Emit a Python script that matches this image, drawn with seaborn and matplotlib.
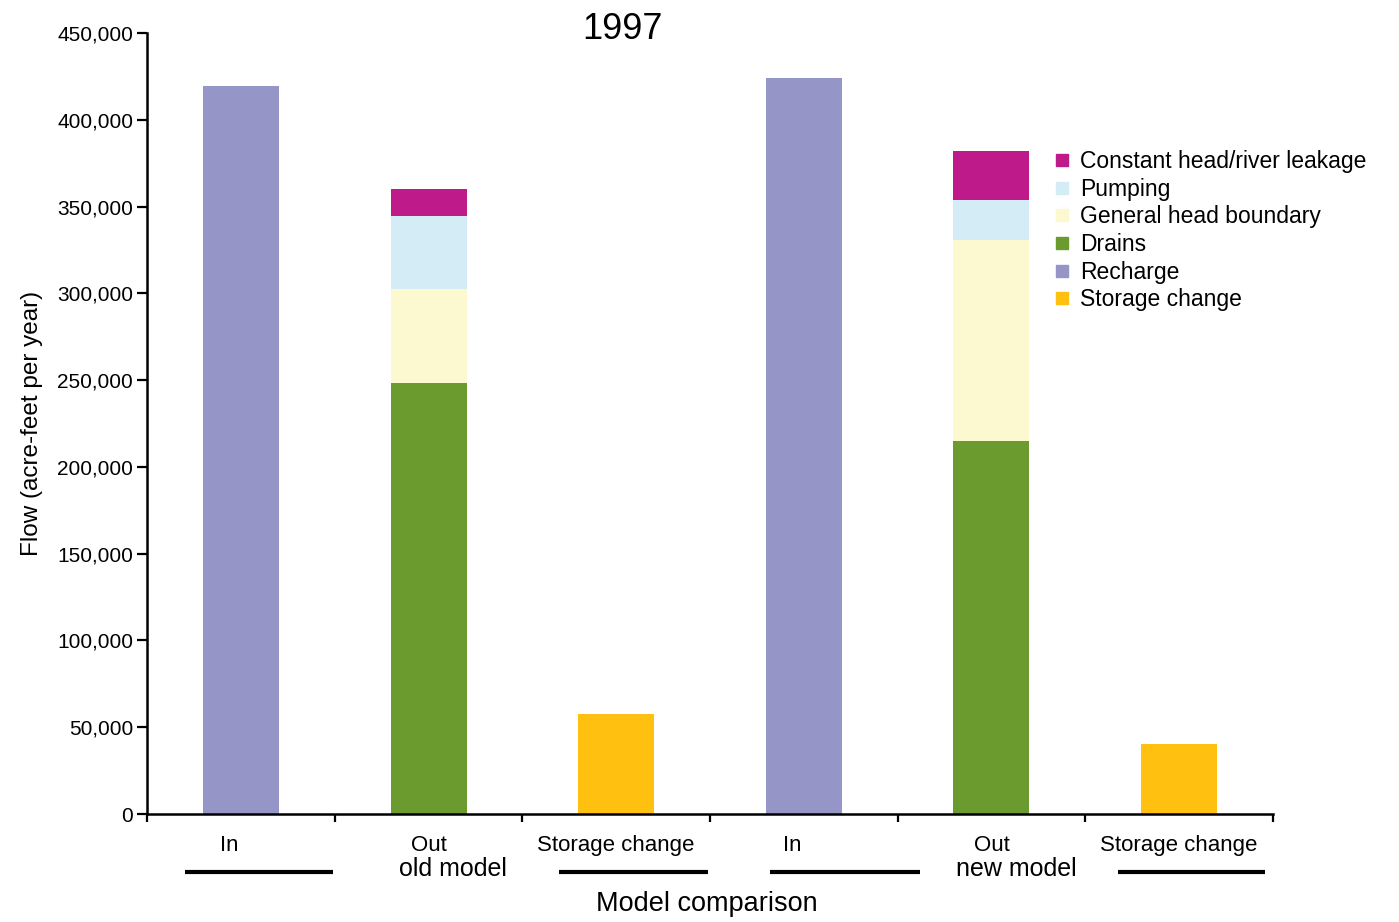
import matplotlib
matplotlib.use("Agg")
import matplotlib.pyplot as plt
import matplotlib.transforms as mtransforms
from matplotlib.lines import Line2D
import numpy as np
import pandas as pd
import seaborn as sns

sns.set_theme(style="white")
plt.rcParams['font.family'] = ['Liberation Sans', 'DejaVu Sans']
plt.rcParams['text.color'] = 'black'
plt.rcParams['axes.labelcolor'] = 'black'
plt.rcParams['xtick.color'] = 'black'
plt.rcParams['ytick.color'] = 'black'

# bar slots, left to right
slots = ["In (old)", "Out (old)", "Storage (old)", "In (new)", "Out (new)", "Storage (new)"]
slot_labels = ["In", "Out", "Storage change", "In", "Out", "Storage change"]

# flow components (acre-feet per year), stacked bottom to top
recharge = [419500, 0, 0, 424000, 0, 0]
storage = [0, 0, 57700, 0, 0, 40400]
drains = [0, 248500, 0, 0, 214800, 0]
ghb = [0, 53800, 0, 0, 116000, 0]
pumping = [0, 42300, 0, 0, 23200, 0]
const_head = [0, 15400, 0, 0, 28100, 0]

components = ["Recharge", "Storage change", "Drains", "General head boundary",
              "Pumping", "Constant head/river leakage"]
colors = {
	"Recharge": "#9595c7",
	"Storage change": "#ffc010",
	"Drains": "#6b9b2f",
	"General head boundary": "#fcf8d0",
	"Pumping": "#d4ecf5",
	"Constant head/river leakage": "#be1a8a",
}
legend_order = ["Constant head/river leakage", "Pumping", "General head boundary",
                "Drains", "Recharge", "Storage change"]

df = pd.DataFrame({
	"slot": slots,
	"Recharge": recharge,
	"Storage change": storage,
	"Drains": drains,
	"General head boundary": ghb,
	"Pumping": pumping,
	"Constant head/river leakage": const_head,
})
cum = df[components].cumsum(axis=1)
cum["slot"] = df["slot"]

fig = plt.figure(figsize=(13.99, 9.22), dpi=100)
ax = fig.add_axes([0.1051, 0.1171, 0.8048, 0.8471])

# draw cumulative totals from the top layer down so each layer covers the one above
for comp in reversed(components):
	sns.barplot(data=cum, x="slot", y=comp, order=slots, color=colors[comp],
	            width=0.405, errorbar=None, linewidth=0, saturation=1, ax=ax)

ax.set_xlim(-0.5, 5.5)
ax.set_ylim(0, 450000)
ax.set_yticks(np.arange(0, 450001, 50000))
ax.set_yticklabels([f"{v:,}" for v in range(0, 450001, 50000)], fontsize=15)
ax.set_xticks(np.arange(-0.5, 5.6, 1.0))
ax.set_xticklabels([])
ax.tick_params(axis="y", direction="out", length=7, width=1.6, color="black", pad=3, left=True)
ax.tick_params(axis="x", direction="out", length=6, width=1.6, color="black", bottom=True)
ax.set_xlabel("")
ax.set_ylabel("Flow (acre-feet per year)", fontsize=17.5, labelpad=10)
for side in ["top", "right"]:
	ax.spines[side].set_visible(False)
for side in ["left", "bottom"]:
	ax.spines[side].set_color("black")
	ax.spines[side].set_linewidth(1.8)

trans = mtransforms.blended_transform_factory(ax.transData, ax.transAxes)
for i, lab in enumerate(slot_labels):
	ax.text(i - 0.06 if lab == "In" else i, -0.04, lab, transform=trans,
	        ha="center", va="center", fontsize=16)
ax.text(1.13, -0.071, "old model", transform=trans, ha="center", va="center", fontsize=18)
ax.text(4.13, -0.071, "new model", transform=trans, ha="center", va="center", fontsize=18)

# group underlines
for x0, x1 in [(-0.30, 0.49), (1.695, 2.489), (2.82, 3.62), (4.673, 5.46)]:
	ax.plot([x0, x1], [-0.074, -0.074], transform=trans, color="black",
	        linewidth=3, clip_on=False, solid_capstyle="butt")

fig.text(0.505, 0.019, "Model comparison", ha="center", va="center", fontsize=19.5)
fig.text(0.445, 0.968, "1997", ha="center", va="center", fontsize=26)

handles = [Line2D([0], [0], marker="s", linestyle="none", markersize=8,
                  markerfacecolor=colors[c], markeredgecolor=colors[c]) for c in legend_order]
fig.legend(handles, legend_order, loc="upper left", bbox_to_anchor=(0.748, 0.847),
           frameon=False, fontsize=16.5, handlelength=0.6, handletextpad=0.45,
           labelspacing=0.2, borderaxespad=0)

fig.savefig("out.png", dpi=100)
